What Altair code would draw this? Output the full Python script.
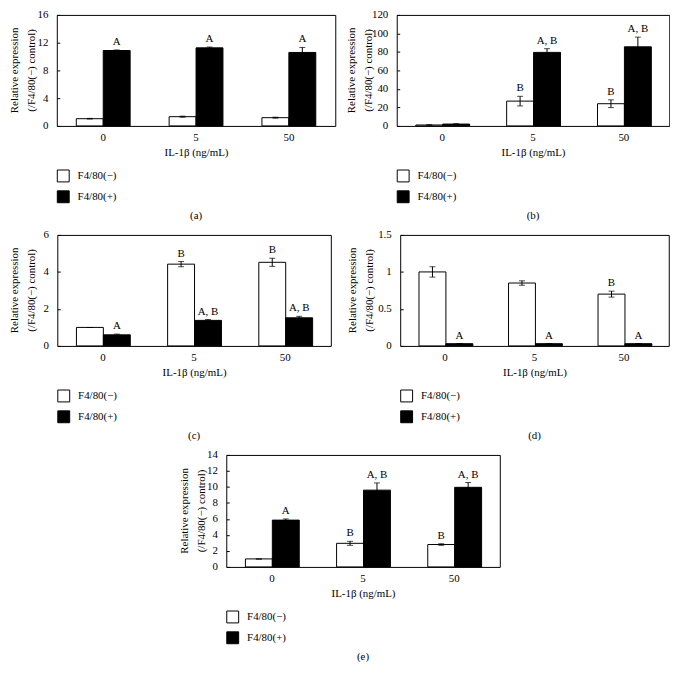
import altair as alt
import pandas as pd

FONT = "Liberation Serif"

doses = ["0", "5", "50"]
groups = ["F4/80(−)", "F4/80(+)"]
y_title_1 = "Relative expression"
y_title_2 = "(/F4/80(−) control)"
x_title = "IL-1β (ng/mL)"

# (a)
a_neg = [1.04, 1.33, 1.19]
a_neg_err = [0.05, 0.08, 0.07]
a_pos = [10.87, 11.25, 10.59]
a_pos_err = [0.08, 0.12, 0.72]
a_neg_lab = ["", "", ""]
a_pos_lab = ["A", "A", "A"]
a_ticks = [0, 4, 8, 12, 16]

# (b)
b_neg = [1.0, 26.8, 24.0]
b_neg_err = [0.3, 5.2, 4.2]
b_pos = [2.0, 79.5, 85.5]
b_pos_err = [0.4, 4.0, 10.5]
b_neg_lab = ["", "B", "B"]
b_pos_lab = ["", "A, B", "A, B"]
b_ticks = [0, 20, 40, 60, 80, 100, 120]

# (c)
c_neg = [1.0, 4.42, 4.52]
c_neg_err = [0.0, 0.14, 0.22]
c_pos = [0.6, 1.38, 1.52]
c_pos_err = [0.04, 0.05, 0.08]
c_neg_lab = ["", "B", "B"]
c_pos_lab = ["A", "A, B", "A, B"]
c_ticks = [0, 2, 4, 6]

# (d)
d_neg = [1.0, 0.85, 0.70]
d_neg_err = [0.07, 0.03, 0.04]
d_pos = [0.03, 0.03, 0.03]
d_pos_err = [0.003, 0.003, 0.003]
d_neg_lab = ["", "", "B"]
d_pos_lab = ["A", "A", "A"]
d_ticks = [0, 0.5, 1, 1.5]

# (e)
e_neg = [1.0, 2.95, 2.8]
e_neg_err = [0.0, 0.25, 0.1]
e_pos = [5.85, 9.6, 9.95]
e_pos_err = [0.15, 0.9, 0.6]
e_neg_lab = ["", "B", "B"]
e_pos_lab = ["A", "A, B", "A, B"]
e_ticks = [0, 2, 4, 6, 8, 10, 12, 14]


def panel(neg, neg_err, pos, pos_err, neg_lab, pos_lab, ticks, w, h, cap, t1x, t2x):
    rows = []
    for i, d in enumerate(doses):
        for g, v, e, l in ((groups[0], neg[i], neg_err[i], neg_lab[i]),
                           (groups[1], pos[i], pos_err[i], pos_lab[i])):
            rows.append({"dose": d, "group": g, "value": v,
                         "lo": v - e, "hi": v + e, "label": l})
    df = pd.DataFrame(rows)
    base = alt.Chart(df)

    x = alt.X("dose:N", sort=doses,
              scale=alt.Scale(paddingInner=0.42, paddingOuter=0.21),
              axis=alt.Axis(title=x_title, labelAngle=0, ticks=False, tickSize=0,
                            domain=False, labelPadding=6, titlePadding=4))
    xo = alt.XOffset("group:N", sort=groups, scale=alt.Scale(domain=groups))
    yscale = alt.Scale(domain=[ticks[0], ticks[-1]], nice=False)
    yaxis = alt.Axis(title=None, values=ticks, labelExpr="'' + datum.value",
                     tickSize=3, offset=-3, domain=False, labelPadding=9,
                     grid=False, minExtent=0)

    def Y(f):
        return alt.Y(f, scale=yscale, axis=yaxis)

    bars = base.mark_bar(stroke="black", strokeWidth=1).encode(
        x=x, xOffset=xo, y=Y("value:Q"),
        fill=alt.Fill("group:N", sort=groups,
                      scale=alt.Scale(domain=groups, range=["white", "black"]),
                      legend=alt.Legend(orient="none", legendX=0, legendY=h + 44,
                                        direction="vertical", title=None,
                                        symbolType="square", symbolSize=144,
                                        symbolStrokeColor="black", symbolStrokeWidth=1,
                                        labelFont=FONT, labelFontSize=11, labelColor="black",
                                        rowPadding=4, labelOffset=8, padding=0)))
    rules = base.mark_rule(color="black", strokeWidth=1).encode(
        x=x, xOffset=xo, y=Y("lo:Q"), y2="hi:Q")
    cap_hi = base.mark_tick(color="black", size=6, thickness=1, orient="horizontal").encode(
        x=x, xOffset=xo, y=Y("hi:Q"))
    cap_lo = base.mark_tick(color="black", size=6, thickness=1, orient="horizontal").encode(
        x=x, xOffset=xo, y=Y("lo:Q"))
    labels = base.mark_text(font=FONT, fontSize=11, baseline="bottom", dy=-3,
                            color="black").encode(
        x=x, xOffset=xo, y=Y("hi:Q"), text="label:N")

    def ytitle(txt, xpos):
        return alt.Chart(pd.DataFrame({"t": [txt]})).mark_text(
            angle=270, font=FONT, fontSize=11, baseline="middle", align="center",
            color="black"
        ).encode(x=alt.value(xpos), y=alt.value(h / 2), text="t:N")

    return alt.layer(bars, rules, cap_hi, cap_lo, labels,
                     ytitle(y_title_1, t1x), ytitle(y_title_2, t2x)).properties(
        width=w, height=h,
        title=alt.TitleParams(cap, orient="bottom", anchor="middle", font=FONT,
                              fontSize=11, fontWeight="normal", color="black", offset=5))


pa = panel(a_neg, a_neg_err, a_pos, a_pos_err, a_neg_lab, a_pos_lab, a_ticks, 281, 112, "(a)", -42, -25)
pb = panel(b_neg, b_neg_err, b_pos, b_pos_err, b_neg_lab, b_pos_lab, b_ticks, 275, 112, "(b)", -45, -28)
pc = panel(c_neg, c_neg_err, c_pos, c_pos_err, c_neg_lab, c_pos_lab, c_ticks, 276, 112, "(c)", -43, -26)
pd_ = panel(d_neg, d_neg_err, d_pos, d_pos_err, d_neg_lab, d_pos_lab, d_ticks, 271, 112, "(d)", -48, -30)
pe = panel(e_neg, e_neg_err, e_pos, e_pos_err, e_neg_lab, e_pos_lab, e_ticks, 276, 113, "(e)", -42, -24)

row1 = alt.hconcat(pa, pb, spacing=9).resolve_scale(fill="independent")
row2 = alt.hconcat(pc, pd_, spacing=14).resolve_scale(fill="independent")

chart = alt.vconcat(row1, row2, pe, spacing=6, center=True).resolve_scale(
    fill="independent"
).properties(
    padding={"left": 0, "top": -3, "right": 0, "bottom": 0}
).configure(
    background="white"
).configure_view(
    stroke="black", strokeWidth=1
).configure_axis(
    labelFont=FONT, titleFont=FONT, labelFontSize=11, titleFontSize=11,
    labelColor="black", titleColor="black", tickColor="black",
    titleFontWeight="normal", grid=False
)

chart.save("out.html", embed_options={"renderer": "svg", "actions": False})
